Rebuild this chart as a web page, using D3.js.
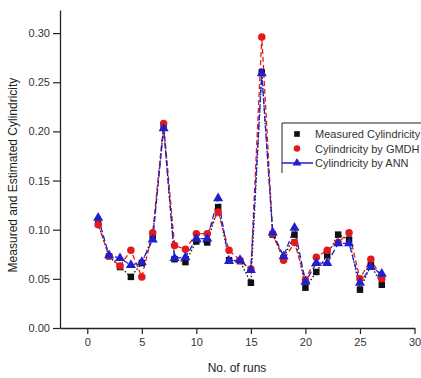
<!DOCTYPE html>
<html lang="en">
<head>
<meta charset="UTF-8">
<title>Cylindricity</title>
<script src="https://d3js.org/d3.v7.min.js"></script>
<style>
    body { margin: 0; background: #fff; }
    svg { display: block; font-family: Arial, "Liberation Sans", sans-serif; }
    .tick text { fill: #333; font-size: 11px; }
</style>
</head>
<body>
<div id="chart"></div>
<script>
    // chart data
    const runs = d3.range(1, 28);
    const measured = [0.106, 0.073, 0.062, 0.052, 0.066, 0.093, 0.205, 0.070, 0.067, 0.088, 0.087, 0.123, 0.069, 0.068, 0.046,
                      0.260, 0.095, 0.071, 0.095, 0.041, 0.057, 0.074, 0.095, 0.090, 0.039, 0.064, 0.044];
    const gmdh = [0.105, 0.073, 0.063, 0.079, 0.052, 0.097, 0.208, 0.084, 0.080, 0.096, 0.096, 0.118, 0.079, 0.069, 0.060,
                  0.296, 0.096, 0.069, 0.087, 0.049, 0.072, 0.079, 0.087, 0.097, 0.050, 0.070, 0.050];
    const ann = [0.112, 0.074, 0.071, 0.064, 0.067, 0.090, 0.203, 0.071, 0.072, 0.091, 0.091, 0.132, 0.068, 0.069, 0.059,
                 0.259, 0.097, 0.073, 0.102, 0.047, 0.066, 0.066, 0.086, 0.086, 0.046, 0.062, 0.055];
    const seriesNames = ["Measured Cylindricity", "Cylindricity by GMDH", "Cylindricity by ANN"];
    const xTicks = [0, 5, 10, 15, 20, 25, 30];
    const yTicks = [0, 0.05, 0.10, 0.15, 0.20, 0.25, 0.30];

    const W = 421, H = 378;
    const svg = d3.select("#chart").append("svg").attr("width", W).attr("height", H);

    const x = d3.scaleLinear().domain([-2.5, 30]).range([60, 414.5]);
    const y = d3.scaleLinear().domain([0, 0.3235]).range([328, 10]);

    // minor ticks
    const xMinor = d3.range(-2.5, 30, 5).filter(v => v > -2.5);
    const yMinor = d3.range(0.025, 0.325, 0.05);

    const gx = svg.append("g").attr("transform", `translate(0,${y(0)})`);
    gx.call(d3.axisBottom(x).tickValues(xMinor).tickSize(3).tickFormat(""));
    gx.call(d3.axisBottom(x).tickValues(xTicks).tickSize(6).tickSizeOuter(0).tickPadding(4).tickFormat(d3.format("d")));
    gx.selectAll(".domain").attr("stroke", "#222").attr("stroke-width", 1.3);
    gx.selectAll("line").attr("stroke", "#222").attr("stroke-width", 1.2);

    const gy = svg.append("g").attr("transform", `translate(${x(-2.5)},0)`);
    gy.call(d3.axisLeft(y).tickValues(yMinor).tickSize(4).tickFormat(""));
    gy.call(d3.axisLeft(y).tickValues(yTicks).tickSize(7).tickSizeOuter(0).tickPadding(3).tickFormat(d3.format(".2f")));
    gy.selectAll(".domain").attr("stroke", "#222").attr("stroke-width", 1.3);
    gy.selectAll("line").attr("stroke", "#222").attr("stroke-width", 1.2);

    // axis titles
    svg.append("text")
        .attr("x", 237).attr("y", 372)
        .attr("text-anchor", "middle")
        .attr("font-size", 12).attr("fill", "#222")
        .text("No. of runs");
    svg.append("text")
        .attr("transform", `translate(17,${(y(0) + y(0.3235)) / 2 + 6}) rotate(-90)`)
        .attr("text-anchor", "middle")
        .attr("font-size", 12).attr("fill", "#222")
        .text("Measured and Estimated Cylindricity");

    const series = [
        { name: seriesNames[0], values: measured, color: "#111", dash: "1.5,2", shape: d3.symbolSquare, size: 42 },
        { name: seriesNames[1], values: gmdh, color: "#e41a1a", dash: "5,3", shape: d3.symbolCircle, size: 44 },
        { name: seriesNames[2], values: ann, color: "#1f1fd0", dash: "6,3", shape: d3.symbolTriangle, size: 44 }
    ];

    const line = d3.line().x((d, i) => x(runs[i])).y(d => y(d));

    series.forEach(s => {
        svg.append("path")
            .attr("d", line(s.values))
            .attr("fill", "none")
            .attr("stroke", s.color)
            .attr("stroke-width", 1.3)
            .attr("stroke-dasharray", s.dash);
    });

    series.forEach(s => {
        svg.append("g").selectAll("path")
            .data(s.values)
            .join("path")
            .attr("transform", (d, i) => `translate(${x(runs[i])},${y(d)})`)
            .attr("d", d3.symbol().type(s.shape).size(s.size))
            .attr("fill", s.color);
    });

    // legend
    const lg = svg.append("g").attr("transform", "translate(282,123)");
    lg.append("path").attr("d", "M0,50V0H145").attr("fill", "none").attr("stroke", "#222").attr("stroke-width", 1);
    series.forEach((s, i) => {
        const ly = 11 + i * 14.5;
        if (i === 2) {
            lg.append("line").attr("x1", 0).attr("x2", 31).attr("y1", ly).attr("y2", ly)
                .attr("stroke", s.color).attr("stroke-width", 1.5);
        }
        lg.append("path")
            .attr("transform", `translate(15,${ly})`)
            .attr("d", d3.symbol().type(s.shape).size(s.size - 10))
            .attr("fill", s.color);
        lg.append("text")
            .attr("x", 33).attr("y", ly + 4)
            .attr("font-size", 11).attr("fill", "#333")
            .text(s.name);
    });
</script>
</body>
</html>
